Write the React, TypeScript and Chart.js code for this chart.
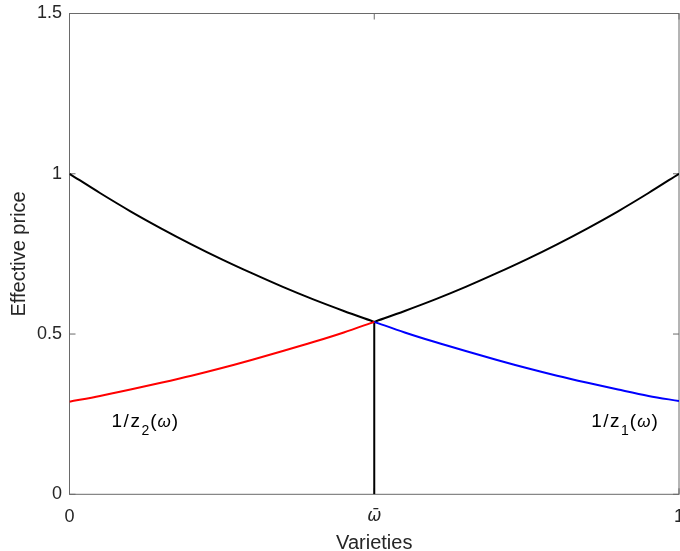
import { useEffect, useRef } from 'react';
import { Chart, registerables } from 'chart.js';

Chart.register(...registerables);

// ---- data ----
const xLeft = [0, 0.05, 0.1, 0.15, 0.2, 0.25, 0.3, 0.35, 0.4, 0.45, 0.5];
const xRight = [0.5, 0.55, 0.6, 0.65, 0.7, 0.75, 0.8, 0.85, 0.9, 0.95, 1];
const priceLeftBlack = [1.0, 0.94, 0.883, 0.83, 0.78, 0.733, 0.689, 0.647, 0.608, 0.572, 0.538];
const priceRightBlack = [0.538, 0.572, 0.608, 0.647, 0.689, 0.733, 0.78, 0.83, 0.883, 0.94, 1.0];
const invZ2 = [0.289, 0.307, 0.327, 0.348, 0.37, 0.394, 0.42, 0.447, 0.475, 0.505, 0.538];
const invZ1 = [0.538, 0.505, 0.475, 0.447, 0.42, 0.394, 0.37, 0.348, 0.327, 0.307, 0.291];
const cutoffX = [0.5, 0.5];
const cutoffY = [0, 0.538];
const xTicks = [0, 0.5, 1];
const xTickLabels = ['0', 'ω̄', '1'];
const yTicks = [0, 0.5, 1, 1.5];
const xTitle = 'Varieties';
const yTitle = 'Effective price';
const label2 = { x: 0.069, y: 0.211, main: '1/z', sub: '2', omega: 'ω' };
const label1 = { x: 0.856, y: 0.211, main: '1/z', sub: '1', omega: 'ω' };

const FONT = '"Liberation Sans", Arial, Helvetica, sans-serif';
const TEXT = '#262626';
const AXIS = '#6a6a6a';

const pts = (xs: number[], ys: number[]) => xs.map((x, i) => ({ x, y: ys[i] }));

const boxPlugin = {
  id: 'boxPlugin',
  beforeDatasetsDraw(chart: any) {
    const { ctx, chartArea, scales } = chart;
    const { left, right, top, bottom } = chartArea;
    ctx.save();
    ctx.strokeStyle = AXIS;
    ctx.lineWidth = 1;
    ctx.strokeRect(left, top, right - left, bottom - top);
    const tl = 6;
    ctx.beginPath();
    yTicks.forEach((v) => {
      const py = scales.y.getPixelForValue(v);
      ctx.moveTo(left, py);
      ctx.lineTo(left + tl, py);
      ctx.moveTo(right, py);
      ctx.lineTo(right - tl, py);
    });
    xTicks.forEach((v) => {
      const px = scales.x.getPixelForValue(v);
      ctx.moveTo(px, bottom);
      ctx.lineTo(px, bottom - tl);
      ctx.moveTo(px, top);
      ctx.lineTo(px, top + tl);
    });
    ctx.stroke();
    ctx.restore();
  },
  afterDraw(chart: any) {
    const { ctx, chartArea, scales } = chart;
    ctx.save();
    ctx.fillStyle = TEXT;
    ctx.font = `20px ${FONT}`;
    ctx.textAlign = 'center';
    ctx.textBaseline = 'alphabetic';
    ctx.fillText(xTitle, (chartArea.left + chartArea.right) / 2, 548.5);
    ctx.save();
    ctx.translate(24.5, (chartArea.top + chartArea.bottom) / 2);
    ctx.rotate(-Math.PI / 2);
    ctx.fillText(yTitle, 0, 0);
    ctx.restore();

    ctx.fillStyle = '#000';
    ctx.textAlign = 'left';
    [label2, label1].forEach((lb) => {
      let px = scales.x.getPixelForValue(lb.x);
      const py = scales.y.getPixelForValue(lb.y);
      (ctx as any).letterSpacing = '1.5px';
      ctx.font = `19px ${FONT}`;
      ctx.fillText(lb.main, px, py);
      px += ctx.measureText(lb.main).width;
      (ctx as any).letterSpacing = '0px';
      ctx.font = `14px ${FONT}`;
      ctx.fillText(lb.sub, px, py + 8);
      px += ctx.measureText(lb.sub).width + 1;
      ctx.font = `19px ${FONT}`;
      ctx.fillText('(', px, py);
      px += ctx.measureText('(').width + 1;
      ctx.font = `italic 17px ${FONT}`;
      ctx.fillText(lb.omega, px, py);
      px += ctx.measureText(lb.omega).width + 1;
      ctx.font = `19px ${FONT}`;
      ctx.fillText(')', px, py);
    });
    ctx.restore();
  },
};

export default function App() {
  const ref = useRef<HTMLCanvasElement | null>(null);
  useEffect(() => {
    if (!ref.current) return;
    const chart = new Chart(ref.current, {
      type: 'line',
      data: {
        datasets: [
          { data: pts(xLeft, invZ2), borderColor: '#ff0000' },
          { data: pts(xRight, invZ1), borderColor: '#0000ff' },
          { data: pts(xLeft, priceLeftBlack), borderColor: '#000000' },
          { data: pts(xRight, priceRightBlack), borderColor: '#000000' },
          { data: pts(cutoffX, cutoffY), borderColor: '#000000', cubicInterpolationMode: 'default', tension: 0 },
        ].map((d: any) => ({
          borderWidth: 2,
          pointRadius: 0,
          fill: false,
          cubicInterpolationMode: 'monotone',
          ...d,
        })),
      },
      options: {
        animation: false,
        responsive: false,
        devicePixelRatio: 1,
        layout: { padding: { top: 13.5, right: 1, left: 0, bottom: 0 } },
        plugins: { legend: { display: false }, tooltip: { enabled: false } },
        scales: {
          x: {
            type: 'linear',
            min: 0,
            max: 1,
            afterBuildTicks: (s: any) => {
              s.ticks = xTicks.map((v) => ({ value: v }));
            },
            afterFit: (s: any) => {
              s.height = 56.7;
              s.paddingLeft = 0;
              s.paddingRight = 0;
            },
            grid: { display: false, drawTicks: false },
            border: { display: false },
            ticks: {
              padding: 12,
              color: TEXT,
              maxRotation: 0,
              autoSkip: false,
              callback: (_v: any, i: number) => xTickLabels[i],
              font: (c: any) =>
                c.index === 1
                  ? { family: '"DejaVu Sans", sans-serif', size: 17, style: 'italic' }
                  : { family: FONT, size: 18 },
            },
          },
          y: {
            type: 'linear',
            min: 0,
            max: 1.5,
            afterBuildTicks: (s: any) => {
              s.ticks = yTicks.map((v) => ({ value: v }));
            },
            afterFit: (s: any) => {
              s.width = 69.5;
              s.paddingTop = 0;
              s.paddingBottom = 0;
            },
            grid: { display: false, drawTicks: false },
            border: { display: false },
            ticks: {
              padding: 7.5,
              color: TEXT,
              font: { family: FONT, size: 18 },
              callback: (v: any) => String(v),
            },
          },
        },
      } as any,
      plugins: [boxPlugin],
    });
    return () => chart.destroy();
  }, []);
  return (
    <div style={{ position: 'absolute', left: 0, top: 0, width: 680, height: 551 }}>
      <canvas ref={ref} width={680} height={551} style={{ display: 'block' }} />
    </div>
  );
}
